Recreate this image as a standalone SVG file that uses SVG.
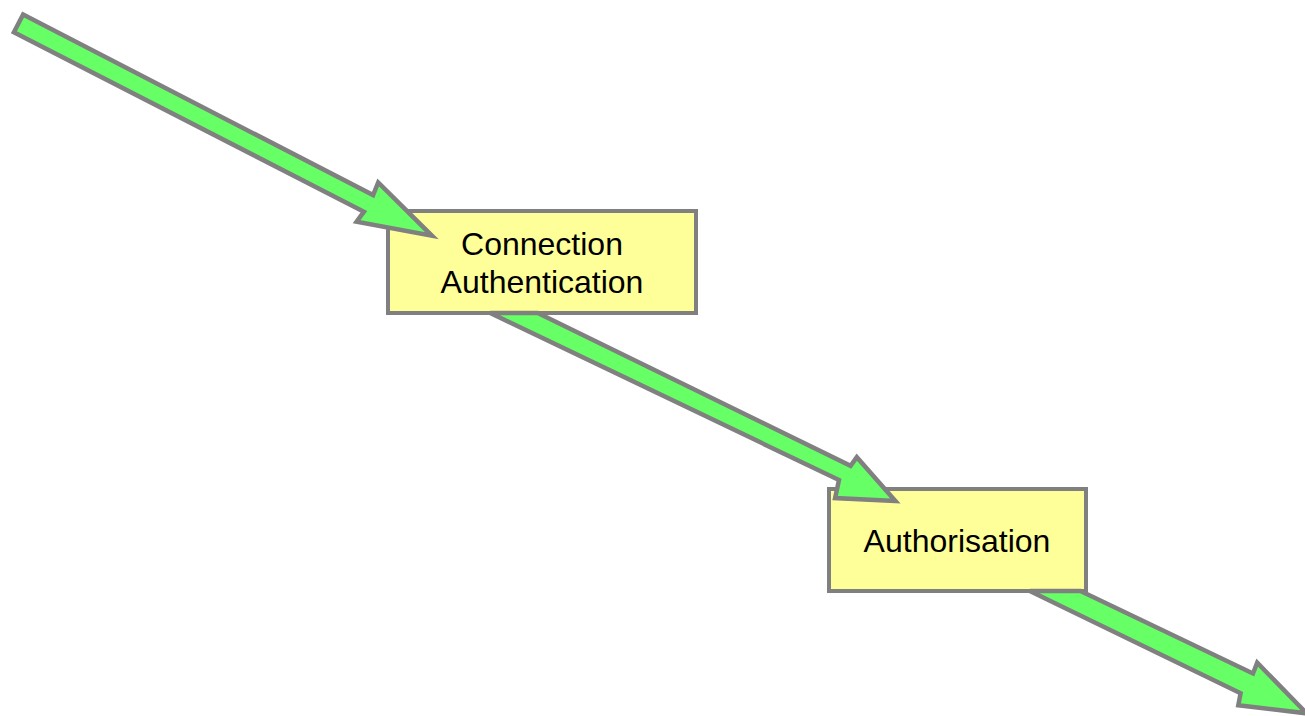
<svg xmlns="http://www.w3.org/2000/svg" width="1305" height="716" viewBox="0 0 1305 716">
<style>
.box{fill:#ffff99;stroke:#808080;stroke-width:4}
.arrow{fill:#66ff66;stroke:#808080;stroke-width:4.5;stroke-linejoin:miter}
.lbl{font-family:"Liberation Sans",Arial,sans-serif;font-size:32px;fill:#000;text-anchor:middle}
</style>
<rect width="1305" height="716" fill="#ffffff"/>
<g id="node-connection-authentication">
<rect class="box" x="388" y="211" width="308" height="102"/>
<text class="lbl" x="542" y="255">Connection</text>
<text class="lbl" x="542" y="293">Authentication</text>
</g>
<g id="node-authorisation">
<rect class="box" x="829" y="489" width="257" height="102"/>
<text class="lbl" x="957" y="552">Authorisation</text>
</g>
<g id="connectors">
<polygon class="arrow" points="23.1,14.5 373.1,195.1 378.2,182.4 432,235.8 356.6,221.6 363.9,211.7 13.9,32.3"/>
<polygon class="arrow" points="537.8,313 850.6,465.8 856.8,457.2 895.4,501.1 835.1,498.1 839,480 490.2,313"/>
<polygon class="arrow" points="1080.5,591 1253,673.5 1257.2,662.7 1306.5,713.3 1238.3,705.2 1240.6,693.3 1029.8,591"/>
</g>
</svg>
